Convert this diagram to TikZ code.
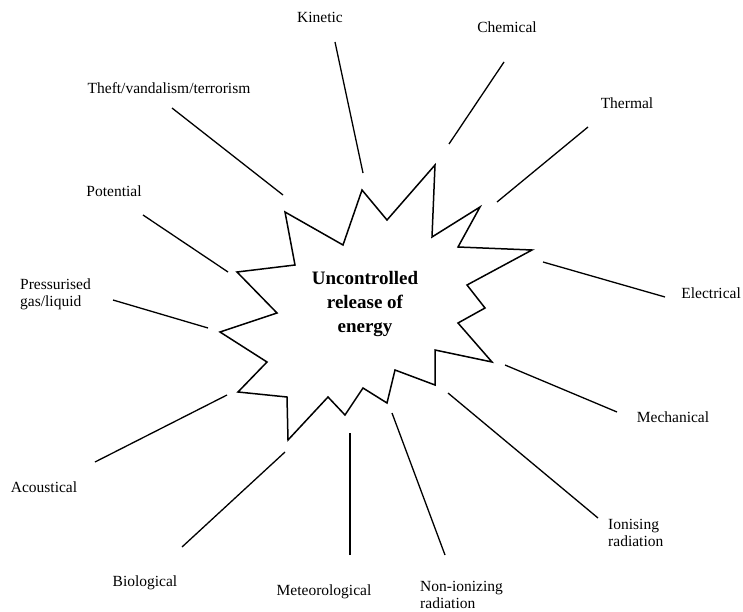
\documentclass[tikz,border=0pt]{standalone}
\usepackage{fontspec}
\setmainfont{Liberation Serif}
\usepackage{tikz}

\tikzset{
  label/.style={font=\fontsize{15.5}{17}\selectfont, inner sep=0pt},
  spoke/.style={line width=1.3pt},
  burst/.style={line width=1.5pt, line join=miter},
}

\begin{document}
\begin{tikzpicture}[x=1pt, y=-1pt]
            % Fix the page to the reference size
            \useasboundingbox (0,0) rectangle (743,612);

            % Define the burst outline
            \draw[burst] (285,212) -- (343,245) -- (362,190) -- (387,220)
                -- (435,165) -- (432,237) -- (480,207) -- (458,247)
                -- (532,250) -- (467,285) -- (485,308) -- (458,323)
                -- (492,362) -- (435,350) -- (435,385) -- (395,370)
                -- (387,403) -- (363,388) -- (345,415) -- (328,397)
                -- (288,440) -- (287,397) -- (238,392) -- (267,362)
                -- (220,332) -- (277,313) -- (237,272) -- (295,265) -- cycle;
            \node[font=\fontsize{19}{24}\selectfont\bfseries, align=center] (core) at (365,304)
                {Uncontrolled\\release of\\energy};

            % Add the energy labels
            \node[label] (kinetic) at (320,17) {Kinetic};
            \node[label] (chemical) at (507,27) {Chemical};
            \node[label] (thermal) at (627,103) {Thermal};
            \node[label, anchor=east] (electrical) at (741,293) {Electrical};
            \node[label] (mechanical) at (673,417) {Mechanical};
            \node[label, anchor=west, align=left] (ionising) at (608,533) {Ionising\\radiation};
            \node[label, anchor=west, align=left] (nonionising) at (420,595) {Non-ionizing\\radiation};
            \node[label] (meteo) at (324,592) {Meteorological};
            \node[label] (biological) at (145,583) {Biological};
            \node[label] (acoustical) at (44,487) {Acoustical};
            \node[label, anchor=west, align=left] (pressure) at (20,294) {Pressurised\\gas/liquid};
            \node[label] (potential) at (114,191) {Potential};
            \node[label] (theft) at (169,88) {Theft/vandalism/terrorism};

            % Define the spoke ends
            \coordinate (kinetic-a) at (335,42);       \coordinate (kinetic-b) at (363,173);
            \coordinate (chemical-a) at (504,62);      \coordinate (chemical-b) at (449,144);
            \coordinate (thermal-a) at (588,127);      \coordinate (thermal-b) at (497,202);
            \coordinate (electrical-a) at (665,297);   \coordinate (electrical-b) at (543,262);
            \coordinate (mechanical-a) at (617,412);   \coordinate (mechanical-b) at (505,365);
            \coordinate (ionising-a) at (598,518);     \coordinate (ionising-b) at (448,393);
            \coordinate (nonionising-a) at (445,555);  \coordinate (nonionising-b) at (392,413);
            \coordinate (meteo-a) at (350,555);        \coordinate (meteo-b) at (350,433);
            \coordinate (biological-a) at (182,547);   \coordinate (biological-b) at (285,452);
            \coordinate (acoustical-a) at (95,462);    \coordinate (acoustical-b) at (227,395);
            \coordinate (pressure-a) at (113,300);     \coordinate (pressure-b) at (208,328);
            \coordinate (potential-a) at (143,215);    \coordinate (potential-b) at (228,272);
            \coordinate (theft-a) at (172,108);        \coordinate (theft-b) at (283,195);

            % Add the spokes towards the burst
            \draw[spoke] (kinetic-a) -- (kinetic-b);
            \draw[spoke] (chemical-a) -- (chemical-b);
            \draw[spoke] (thermal-a) -- (thermal-b);
            \draw[spoke] (electrical-a) -- (electrical-b);
            \draw[spoke] (mechanical-a) -- (mechanical-b);
            \draw[spoke] (ionising-a) -- (ionising-b);
            \draw[spoke] (nonionising-a) -- (nonionising-b);
            \draw[spoke] (meteo-a) -- (meteo-b);
            \draw[spoke] (biological-a) -- (biological-b);
            \draw[spoke] (acoustical-a) -- (acoustical-b);
            \draw[spoke] (pressure-a) -- (pressure-b);
            \draw[spoke] (potential-a) -- (potential-b);
            \draw[spoke] (theft-a) -- (theft-b);
        \end{tikzpicture}
\end{document}
